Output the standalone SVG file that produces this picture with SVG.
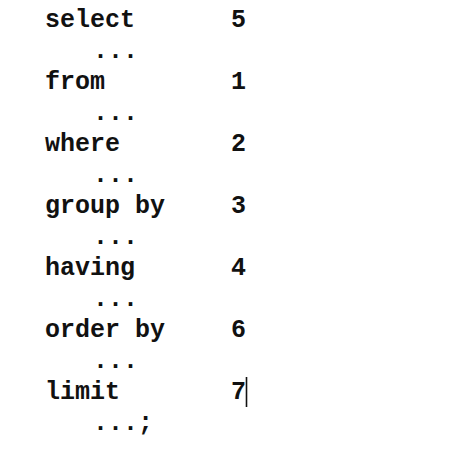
<svg xmlns="http://www.w3.org/2000/svg" width="463" height="473" viewBox="0 0 463 473">
<style>
text{font-family:"Liberation Mono","Courier New",monospace;font-weight:bold;font-size:25px;fill:#111}
</style>
<rect width="463" height="473" fill="#fff"/>
<g id="select"><text x="45" y="27">select</text><text x="231" y="27">5</text></g>
<text x="93" y="58">...</text>
<g id="from"><text x="45" y="89">from</text><text x="231" y="89">1</text></g>
<text x="93" y="120">...</text>
<g id="where"><text x="45" y="151">where</text><text x="231" y="151">2</text></g>
<text x="93" y="182">...</text>
<g id="groupby"><text x="45" y="213">group by</text><text x="231" y="213">3</text></g>
<text x="93" y="244">...</text>
<g id="having"><text x="45" y="275">having</text><text x="231" y="275">4</text></g>
<text x="93" y="306">...</text>
<g id="orderby"><text x="45" y="337">order by</text><text x="231" y="337">6</text></g>
<text x="93" y="368">...</text>
<g id="limit"><text x="45" y="399">limit</text><text x="231" y="399">7</text></g>
<line x1="246.5" y1="377" x2="246.5" y2="407" stroke="#111" stroke-width="1.6"/>
<text x="93" y="430">...;</text>
</svg>
